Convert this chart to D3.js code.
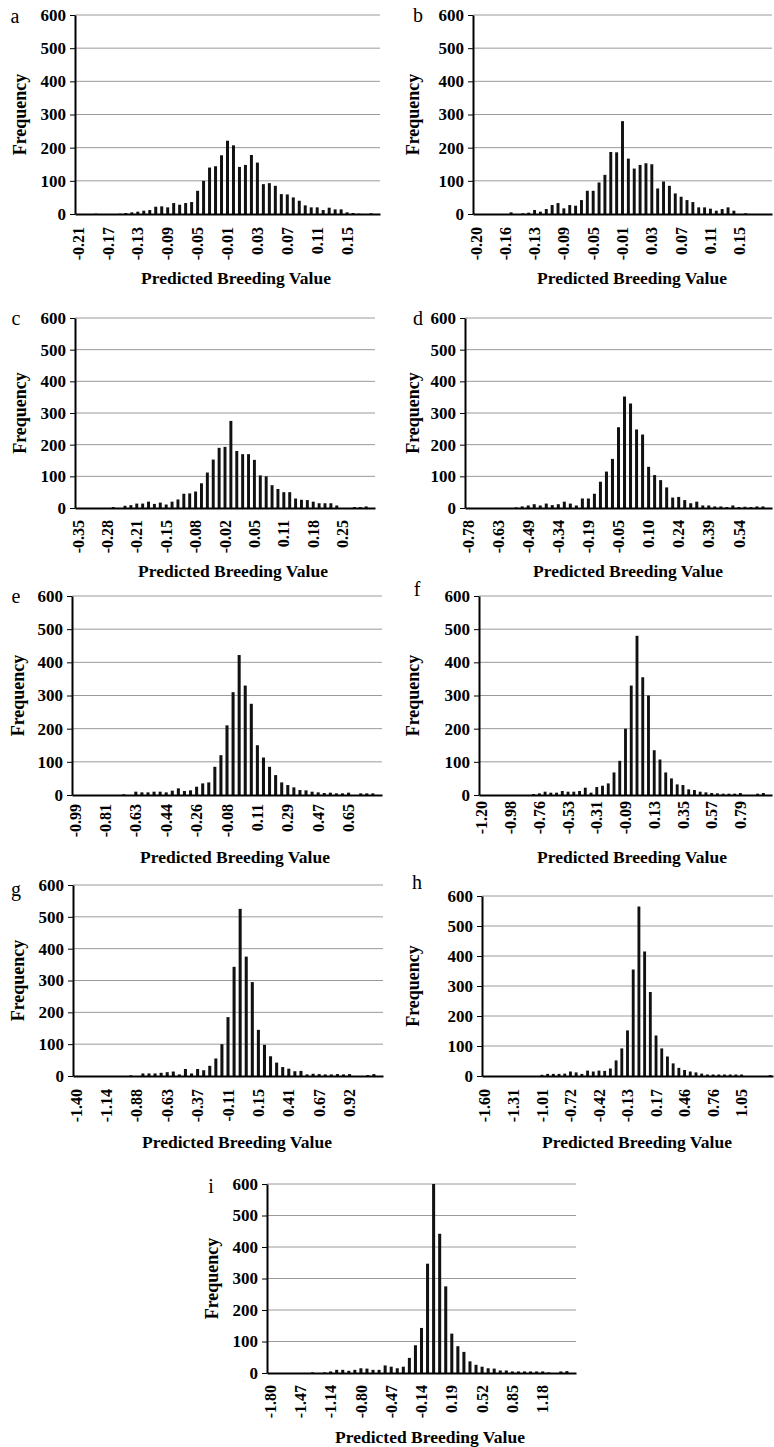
<!DOCTYPE html>
<html>
<head>
<meta charset="utf-8">
<script src="https://cdn.jsdelivr.net/npm/d3@7"></script>
<style>
  body { margin: 0; background: #fff; }
  svg text { font-family: "Liberation Serif", "Times New Roman", serif; }
</style>
</head>
<body>
<div id="chart"></div>
<script>
// frequencies per bin (51 bins each)
const countsA = [0, 0, 0, 1, 0, 0, 0, 1, 3, 5,
    7, 10, 12, 22, 23, 20, 33, 28, 33, 36,
    70, 100, 140, 144, 177, 221, 207, 142, 148, 178,
    155, 90, 93, 85, 60, 59, 50, 40, 26, 20,
    20, 12, 19, 14, 14, 5, 3, 1, 0, 2, 0];
const countsB = [0, 0, 0, 0, 0, 0, 5, 0, 2, 4,
    12, 7, 15, 27, 33, 17, 27, 25, 42, 70,
    70, 95, 118, 187, 186, 280, 167, 137, 148, 153,
    150, 77, 98, 85, 62, 52, 42, 36, 20, 20,
    16, 10, 15, 20, 10, 0, 2, 0, 0, 0, 0];
const countsC = [0, 0, 0, 0, 0, 0, 3, 0, 7, 9,
    14, 14, 20, 13, 17, 11, 20, 27, 45, 46,
    52, 78, 112, 153, 190, 193, 275, 180, 170, 170,
    152, 103, 100, 72, 60, 50, 50, 30, 26, 25,
    20, 15, 15, 15, 8, 0, 0, 3, 3, 5, 0];
const countsD = [0, 0, 0, 0, 0, 0, 0, 0, 2, 5,
    8, 12, 8, 14, 9, 12, 20, 14, 8, 30,
    30, 45, 83, 115, 155, 255, 352, 330, 248, 232,
    130, 104, 88, 65, 33, 35, 25, 15, 20, 8,
    8, 5, 5, 3, 8, 3, 4, 3, 5, 5, 0];
const countsE = [0, 0, 0, 0, 0, 0, 0, 0, 2, 0,
    10, 8, 8, 10, 10, 8, 13, 20, 12, 14,
    25, 35, 38, 85, 120, 210, 310, 422, 330, 275,
    150, 113, 85, 60, 38, 30, 23, 15, 14, 10,
    8, 6, 7, 5, 5, 7, 0, 5, 5, 5, 0];
const countsF = [0, 0, 0, 0, 0, 0, 0, 0, 0, 3,
    5, 10, 7, 7, 12, 10, 10, 12, 22, 7,
    24, 28, 35, 68, 103, 200, 330, 480, 355, 300,
    135, 107, 68, 50, 32, 30, 17, 15, 10, 8,
    6, 5, 4, 4, 4, 6, 0, 0, 4, 6, 0];
const countsG = [0, 0, 0, 0, 0, 0, 0, 0, 0, 2,
    0, 8, 8, 8, 10, 12, 14, 5, 22, 8,
    22, 18, 32, 55, 100, 185, 343, 525, 375, 295,
    145, 98, 62, 42, 28, 23, 15, 16, 5, 7,
    6, 5, 5, 6, 5, 6, 0, 0, 3, 6, 0];
const countsH = [0, 0, 0, 0, 0, 0, 0, 0, 0, 0,
    4, 7, 7, 7, 8, 15, 12, 7, 18, 15,
    18, 17, 25, 52, 92, 152, 355, 565, 415, 280,
    135, 92, 65, 42, 27, 20, 15, 12, 8, 5,
    5, 5, 5, 5, 5, 5, 0, 0, 0, 0, 3];
const countsI = [0, 0, 0, 0, 0, 0, 0, 2, 0, 2,
    5, 10, 10, 7, 10, 15, 14, 10, 10, 24,
    20, 15, 20, 48, 88, 143, 347, 600, 442, 275,
    125, 85, 67, 37, 26, 20, 15, 14, 8, 8,
    5, 5, 5, 5, 5, 5, 2, 0, 5, 6, 0];

// category labels shown under every fifth bin
const ticksA = ["-0.21", "-0.17", "-0.13", "-0.09", "-0.05", "-0.01", "0.03", "0.07", "0.11", "0.15"];
const ticksB = ["-0.20", "-0.16", "-0.13", "-0.09", "-0.05", "-0.01", "0.03", "0.07", "0.11", "0.15"];
const ticksC = ["-0.35", "-0.28", "-0.21", "-0.15", "-0.08", "-0.02", "0.05", "0.11", "0.18", "0.25"];
const ticksD = ["-0.78", "-0.63", "-0.49", "-0.34", "-0.19", "-0.05", "0.10", "0.24", "0.39", "0.54"];
const ticksE = ["-0.99", "-0.81", "-0.63", "-0.44", "-0.26", "-0.08", "0.11", "0.29", "0.47", "0.65"];
const ticksF = ["-1.20", "-0.98", "-0.76", "-0.53", "-0.31", "-0.09", "0.13", "0.35", "0.57", "0.79"];
const ticksG = ["-1.40", "-1.14", "-0.88", "-0.63", "-0.37", "-0.11", "0.15", "0.41", "0.67", "0.92"];
const ticksH = ["-1.60", "-1.31", "-1.01", "-0.72", "-0.42", "-0.13", "0.17", "0.46", "0.76", "1.05"];
const ticksI = ["-1.80", "-1.47", "-1.14", "-0.80", "-0.47", "-0.14", "0.19", "0.52", "0.85", "1.18"];

const freqTicks = [0, 100, 200, 300, 400, 500, 600];
const xTitle = "Predicted Breeding Value";
const yTitle = "Frequency";

// panel geometry
const panels = [
    {letter: "a", counts: countsA, ticks: ticksA, left: 75, right: 380, top: 15, bottom: 214, gap: 13, lx: 15, ly: 16, fx: 20, tx: 236, ty: 278},
    {letter: "b", counts: countsB, ticks: ticksB, left: 473, right: 772, top: 15, bottom: 214, gap: 13, lx: 418, ly: 15, fx: 413, tx: 632, ty: 278},
    {letter: "c", counts: countsC, ticks: ticksC, left: 75, right: 375, top: 318, bottom: 508, gap: 12, lx: 16, ly: 318, fx: 20, tx: 233, ty: 571},
    {letter: "d", counts: countsD, ticks: ticksD, left: 465, right: 772, top: 318, bottom: 508, gap: 12, lx: 418, ly: 318, fx: 413, tx: 628, ty: 571},
    {letter: "e", counts: countsE, ticks: ticksE, left: 72, right: 382, top: 596, bottom: 795, gap: 9, lx: 16, ly: 596, fx: 18, tx: 235, ty: 857},
    {letter: "f", counts: countsF, ticks: ticksF, left: 479, right: 772, top: 596, bottom: 795, gap: 6, lx: 417, ly: 589, fx: 413, tx: 632, ty: 857},
    {letter: "g", counts: countsG, ticks: ticksG, left: 73, right: 383, top: 885, bottom: 1076, gap: 13, lx: 16, ly: 889, fx: 18, tx: 237, ty: 1142},
    {letter: "h", counts: countsH, ticks: ticksH, left: 482, right: 773, top: 896, bottom: 1076, gap: 13, lx: 417, ly: 882, fx: 413, tx: 637, ty: 1142},
    {letter: "i", counts: countsI, ticks: ticksI, left: 267, right: 576, top: 1184, bottom: 1373, gap: 12, lx: 211, ly: 1186, fx: 212, tx: 430, ty: 1437}
];

const width = 774, height = 1447;

const svg = d3.select("#chart")
    .append("svg")
    .attr("width", width)
    .attr("height", height);

panels.forEach(function (p) {
    const bins = d3.range(p.counts.length);

    const x = d3.scaleBand()
        .domain(bins)
        .range([p.left, p.right])
        .paddingInner(0.5)
        .paddingOuter(0.25);

    const y = d3.scaleLinear()
        .domain([0, 600])
        .range([p.bottom, p.top]);

    const g = svg.append("g").attr("class", "panel");

    // gridlines
    g.selectAll(".grid")
        .data(freqTicks.filter(d => d > 0))
        .enter()
        .append("line")
        .attr("class", "grid")
        .attr("x1", p.left)
        .attr("x2", p.right)
        .attr("y1", d => y(d))
        .attr("y2", d => y(d))
        .attr("stroke", "#9a9a9a")
        .attr("stroke-width", 1);

    // bars
    g.selectAll(".bar")
        .data(bins)
        .enter()
        .append("rect")
        .attr("class", "bar")
        .attr("x", i => x(i))
        .attr("width", x.bandwidth())
        .attr("y", i => y(p.counts[i]))
        .attr("height", i => y(0) - y(p.counts[i]))
        .attr("fill", "#111");

    // x axis
    const xAxis = d3.axisBottom(x)
        .tickValues(bins.filter(i => i % 5 === 0 && i < 50))
        .tickFormat(i => p.ticks[i / 5])
        .tickSize(0)
        .tickSizeOuter(0);

    const gx = g.append("g")
        .attr("transform", "translate(0," + p.bottom + ")")
        .call(xAxis);
    gx.select(".domain").attr("stroke", "#000").attr("stroke-width", 2);
    gx.selectAll("text")
        .attr("font-size", "16px")
        .attr("font-weight", "bold")
        .attr("fill", "#000")
        .attr("transform", "rotate(-90)")
        .attr("text-anchor", "end")
        .attr("x", -p.gap)
        .attr("y", 0)
        .attr("dy", "0.35em");

    // y axis
    const yAxis = d3.axisLeft(y)
        .tickValues(freqTicks)
        .tickSize(5)
        .tickSizeOuter(0)
        .tickPadding(4);

    const gy = g.append("g")
        .attr("transform", "translate(" + p.left + ",0)")
        .call(yAxis);
    gy.select(".domain").attr("stroke", "#000").attr("stroke-width", 2);
    gy.selectAll(".tick line").attr("stroke", "#000").attr("stroke-width", 1);
    gy.selectAll("text")
        .attr("font-size", "17px")
        .attr("font-weight", "bold")
        .attr("fill", "#000");

    // axis titles
    g.append("text")
        .attr("x", p.tx)
        .attr("y", p.ty)
        .attr("dy", "0.35em")
        .attr("text-anchor", "middle")
        .attr("font-size", "17.5px")
        .attr("font-weight", "bold")
        .text(xTitle);

    g.append("text")
        .attr("transform", "translate(" + p.fx + "," + ((p.top + p.bottom) / 2) + ") rotate(-90)")
        .attr("dy", "0.35em")
        .attr("text-anchor", "middle")
        .attr("font-size", "18px")
        .attr("font-weight", "bold")
        .text(yTitle);

    // panel letter
    g.append("text")
        .attr("x", p.lx)
        .attr("y", p.ly)
        .attr("dy", "0.35em")
        .attr("text-anchor", "middle")
        .attr("font-size", "20px")
        .text(p.letter);
});
</script>
</body>
</html>
